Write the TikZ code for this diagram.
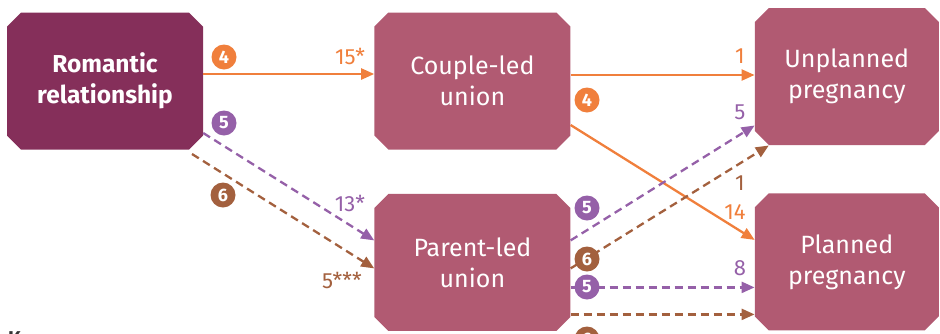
\documentclass[tikz,border=0pt]{standalone}
\usepackage{fontspec}
\setmainfont{Fira Sans}
\usepackage{tikz}
\usetikzlibrary{arrows.meta,positioning,shapes.misc}
\definecolor{cplum}{HTML}{852F5A}
\definecolor{crose}{HTML}{B15A72}
\definecolor{corange}{HTML}{F07F3C}
\definecolor{cpurple}{HTML}{9560A8}
\definecolor{cbrown}{HTML}{A3603E}

\begin{document}
\begin{tikzpicture}[x=1pt,y=-1pt,>={Triangle[length=13pt,width=11pt]},
  box node/.style={chamfered rectangle,chamfered rectangle sep=7pt,fill=crose,
    text=white,inner sep=0pt,align=center,minimum width=196pt,minimum height=137pt,
    font=\fontsize{25}{31}\selectfont},
  start node/.style={box node,fill=cplum,font=\bfseries\fontsize{24.5}{31}\selectfont},
  badge/.style={circle,inner sep=0pt,minimum size=25pt,text=white,
    font=\bfseries\fontsize{18}{18}\selectfont},
  value/.style={inner sep=0pt,font=\fontsize{22}{22}\selectfont},
  solid line/.style={->,line width=2.3pt,corange},
  dash line/.style={->,line width=2.3pt,dash pattern=on 8pt off 5pt}]
  \useasboundingbox (0,0) rectangle (940,333);
  \clip (0,0) rectangle (940,333);

  \node[start node] (rom) at (105,81) {Romantic\\relationship};
  \node[box node] (couple) [right=171pt of rom] {Couple-led\\union};
  \node[box node] (parent) [below=44pt of couple] {Parent-led\\union};
  \node[box node,minimum width=184pt] (unpl) [right=184pt of couple,yshift=4.5pt] {Unplanned\\pregnancy};
  \node[box node,minimum width=184pt] (plan) [below=48pt of unpl] {Planned\\pregnancy};

  % connectors
  \draw[solid line] ([yshift=7pt]rom.east) -- ([yshift=7pt]couple.west);
  \draw[solid line] ([yshift=6pt]couple.east) -- ([yshift=6pt]couple.east -| unpl.west);
  \draw[solid line] ([yshift=-44pt]couple.east) -- ([yshift=22pt]plan.west);
  \draw[dash line,cpurple] ([yshift=-52pt]rom.east) -- ([yshift=22pt]parent.west);
  \draw[dash line,cbrown] ([xshift=87pt,yshift=-73pt]rom.center) -- ([yshift=-6pt]parent.west);
  \draw[dash line,cpurple] ([yshift=22pt]parent.east) -- ([yshift=-49pt]unpl.west);
  \draw[dash line,cbrown] ([yshift=-6pt]parent.east) -- ([xshift=-78pt,yshift=-69pt]unpl.center);
  \draw[dash line,cpurple] ([yshift=-25pt]parent.east) -- ([yshift=-25pt]parent.east -| plan.west);
  \draw[dash line,cbrown] ([yshift=-52pt]parent.east) -- ([yshift=-52pt]parent.east -| plan.west);

  % numbered circles
  \node[badge,fill=corange] (b4a) at (224,57) {4};
  \node[badge,fill=cpurple] (b5a) at (224,123) {5};
  \node[badge,fill=cbrown] (b6a) at (223,195) {6};
  \node[badge,fill=corange] (b4b) at (587,100) {4};
  \node[badge,fill=cpurple] (b5b) at (587,208) {5};
  \node[badge,fill=cbrown] (b6b) at (587,259) {6};
  \node[badge,fill=cpurple] (b5c) at (587,287) {5};
  \node[badge,fill=cbrown] (b6c) at (587,339) {6};

  % values
  \node[value,text=corange] (v15) at (350,56) {15*};
  \node[value,text=cpurple] (v13) at (350,203) {13*};
  \node[value,text=cbrown] (v5s) at (342,280) {5***};
  \node[value,text=corange] (v1a) at (740,56) {1};
  \node[value,text=cpurple] (v5) at (740,112) {5};
  \node[value,text=cbrown] (v1b) at (740,183) {1};
  \node[value,text=corange] (v14) at (735,212) {14};
  \node[value,text=cpurple] (v8) at (740,268) {8};
  \node[value,text=cbrown] (v4) at (740,342) {4};

  \node[anchor=base west,inner sep=0pt,text=black!80,font=\bfseries\fontsize{20}{20}\selectfont] (key) at (8,345) {Key};
\end{tikzpicture}
\end{document}
